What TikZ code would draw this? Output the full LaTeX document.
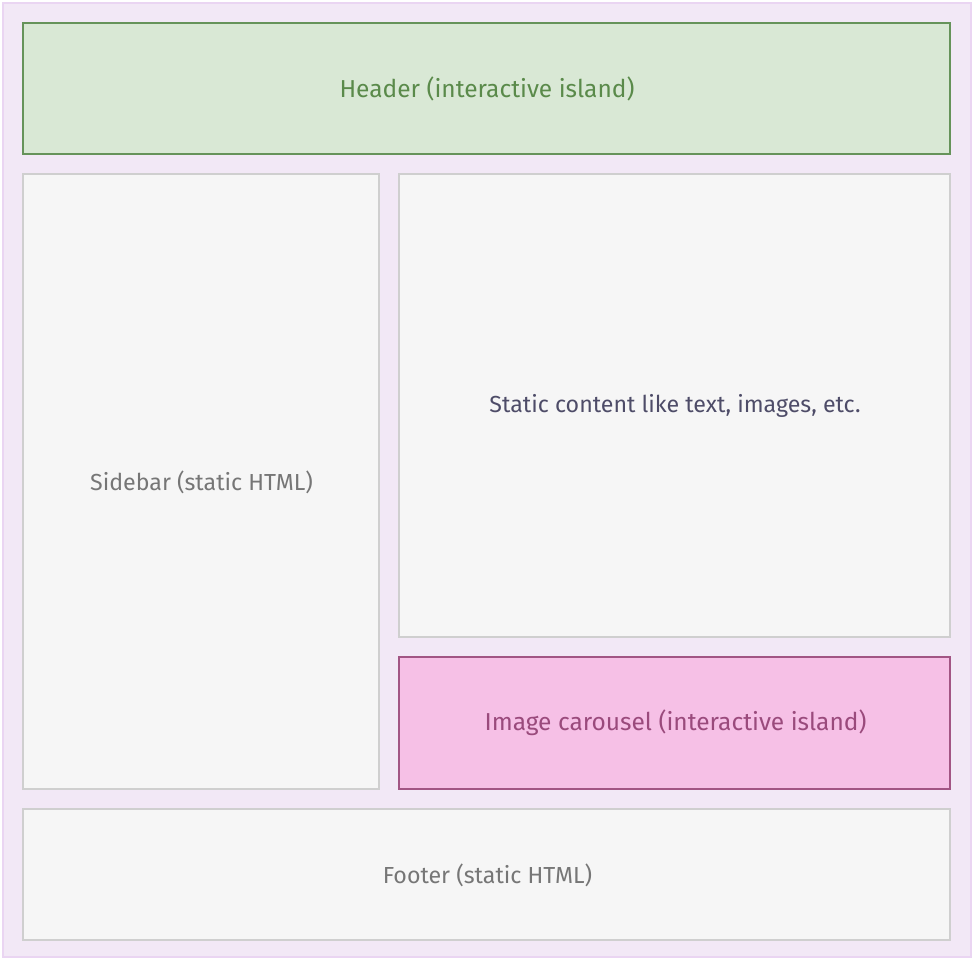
\documentclass[tikz,border=0pt]{standalone}
\usepackage{fontspec}
\setmainfont{Fira Sans}
\definecolor{outerfill}{HTML}{F2E8F6}
\definecolor{outerdraw}{HTML}{EAD5F2}
\definecolor{hdrfill}{HTML}{D9E8D5}
\definecolor{hdrdraw}{HTML}{66935A}
\definecolor{hdrtext}{HTML}{5A8A4A}
\definecolor{carfill}{HTML}{F6C0E6}
\definecolor{cardraw}{HTML}{A25584}
\definecolor{cartext}{HTML}{9A4A7C}
\definecolor{grayfill}{HTML}{F6F6F6}
\definecolor{graydraw}{HTML}{CFCFCF}
\definecolor{graytext}{HTML}{767676}
\definecolor{contenttext}{HTML}{4E4C68}
\begin{document}
\begin{tikzpicture}[x=1pt,y=-1pt,
  box/.style={line width=2pt},
  lbl/.style={font=\fontsize{23.2}{27}\selectfont},
  biglbl/.style={font=\fontsize{24.5}{29}\selectfont},
  island/.style={box,fill=hdrfill,draw=hdrdraw},
  carousel/.style={box,fill=carfill,draw=cardraw},
  staticbox/.style={box,fill=grayfill,draw=graydraw}]
\useasboundingbox (0,0) rectangle (977,960);
\fill[white] (0,0) rectangle (977,960);
\draw[fill=outerfill,draw=outerdraw,line width=2pt] (3,3) rectangle (971,957);
\draw[island] (23,23) rectangle (950,154);
\node[biglbl,text=hdrtext] (header) at (487,88.5) {Header (interactive island)};
\draw[staticbox] (23,174) rectangle (379,789);
\node[lbl,text=graytext] (sidebar) at (201.5,482.5) {Sidebar (static HTML)};
\draw[staticbox] (399,174) rectangle (950,637);
\node[lbl,text=contenttext] (content) at (675,406) {Static content like text, images, etc.};
\draw[carousel] (399,657) rectangle (950,789);
\node[biglbl,text=cartext] (carousel) at (675.5,722.5) {Image carousel (interactive island)};
\draw[staticbox] (23,809) rectangle (950,940);
\node[lbl,text=graytext] (footer) at (487.5,875) {Footer (static HTML)};
\end{tikzpicture}
\end{document}
